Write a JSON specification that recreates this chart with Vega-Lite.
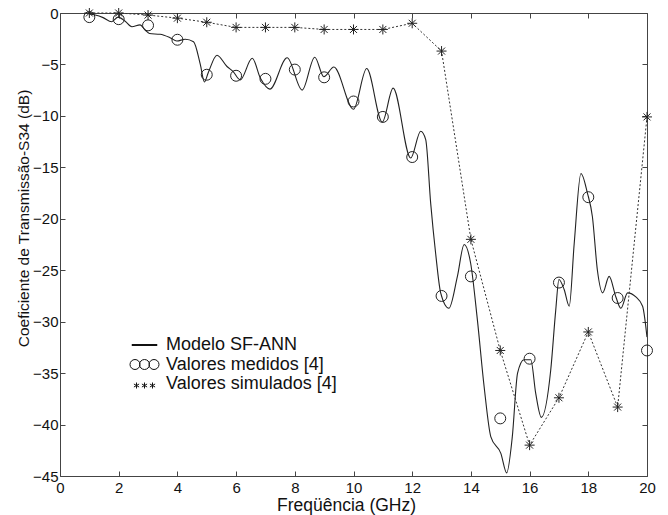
{
  "$schema": "https://vega.github.io/schema/vega-lite/v6.json",
  "width": 587,
  "height": 463,
  "autosize": {"type": "none"},
  "padding": {"left": 60, "top": 13, "right": 21, "bottom": 39},
  "background": "white",
  "config": {
    "view": {"stroke": null},
    "axis": {
      "grid": false,
      "labelFont": "Liberation Sans",
      "labelFontSize": 15,
      "labelColor": "#111",
      "titleFont": "Liberation Sans",
      "titleFontWeight": "normal",
      "titleColor": "#111",
      "domainColor": "#444",
      "domainWidth": 1,
      "tickColor": "#444",
      "tickSize": -5,
      "labelOverlap": false,
      "labelBound": false,
      "labelFlush": false
    }
  },
  "datasets": {
    "model": [
      {"f": 1.0, "v": -0.1}, {"f": 1.2, "v": -0.2}, {"f": 1.47, "v": -0.45}, {"f": 1.76, "v": -0.85},
      {"f": 1.98, "v": -0.4}, {"f": 2.22, "v": -0.8}, {"f": 2.45, "v": -1.33}, {"f": 2.73, "v": -1.15},
      {"f": 2.9, "v": -1.65}, {"f": 3.05, "v": -2.0}, {"f": 3.41, "v": -2.07}, {"f": 3.75, "v": -2.4},
      {"f": 3.98, "v": -2.72}, {"f": 4.27, "v": -2.55}, {"f": 4.55, "v": -2.8}, {"f": 4.78, "v": -5.0},
      {"f": 4.92, "v": -6.7}, {"f": 5.05, "v": -5.8}, {"f": 5.35, "v": -4.1}, {"f": 5.69, "v": -5.2},
      {"f": 5.9, "v": -5.7}, {"f": 6.14, "v": -6.5}, {"f": 6.55, "v": -4.4}, {"f": 6.83, "v": -6.35},
      {"f": 7.15, "v": -7.4}, {"f": 7.74, "v": -4.35}, {"f": 8.25, "v": -7.5}, {"f": 8.68, "v": -4.3},
      {"f": 8.99, "v": -6.2}, {"f": 9.33, "v": -5.25}, {"f": 10.0, "v": -9.35}, {"f": 10.45, "v": -5.4},
      {"f": 10.98, "v": -10.6}, {"f": 11.35, "v": -7.3}, {"f": 11.95, "v": -14.1}, {"f": 12.29, "v": -11.5},
      {"f": 12.46, "v": -12.3}, {"f": 12.63, "v": -18.5}, {"f": 12.8, "v": -23.4}, {"f": 12.97, "v": -27.2},
      {"f": 13.25, "v": -28.7}, {"f": 13.54, "v": -25.6}, {"f": 13.77, "v": -22.5}, {"f": 13.99, "v": -24.3},
      {"f": 14.22, "v": -29.8}, {"f": 14.45, "v": -36.3}, {"f": 14.68, "v": -41.2}, {"f": 15.02, "v": -42.8},
      {"f": 15.22, "v": -44.7}, {"f": 15.41, "v": -41.2}, {"f": 15.59, "v": -35.0}, {"f": 15.81, "v": -33.7},
      {"f": 16.04, "v": -33.7}, {"f": 16.21, "v": -37.0}, {"f": 16.4, "v": -39.3}, {"f": 16.72, "v": -34.7},
      {"f": 16.89, "v": -28.9}, {"f": 17.0, "v": -25.9}, {"f": 17.18, "v": -26.9}, {"f": 17.35, "v": -28.5},
      {"f": 17.52, "v": -22.4}, {"f": 17.75, "v": -15.6}, {"f": 17.97, "v": -17.5}, {"f": 18.14, "v": -19.8},
      {"f": 18.31, "v": -25.0}, {"f": 18.49, "v": -27.2}, {"f": 18.71, "v": -25.6}, {"f": 18.94, "v": -27.6},
      {"f": 19.11, "v": -28.7}, {"f": 19.34, "v": -27.2}, {"f": 19.62, "v": -27.6}, {"f": 19.85, "v": -28.5},
      {"f": 20.0, "v": -31.5}
    ],
    "measured": [
      {"f": 1, "v": -0.4}, {"f": 2, "v": -0.6}, {"f": 3, "v": -1.2}, {"f": 4, "v": -2.6},
      {"f": 5, "v": -6.0}, {"f": 6, "v": -6.1}, {"f": 7, "v": -6.4}, {"f": 8, "v": -5.5},
      {"f": 9, "v": -6.25}, {"f": 10, "v": -8.6}, {"f": 11, "v": -10.1}, {"f": 12, "v": -14.0},
      {"f": 13, "v": -27.5}, {"f": 14, "v": -25.6}, {"f": 15, "v": -39.4}, {"f": 16, "v": -33.6},
      {"f": 17, "v": -26.2}, {"f": 18, "v": -17.9}, {"f": 19, "v": -27.7}, {"f": 20, "v": -32.8}
    ],
    "simulated": [
      {"f": 1, "v": 0.0}, {"f": 2, "v": 0.0}, {"f": 3, "v": -0.2}, {"f": 4, "v": -0.5},
      {"f": 5, "v": -0.9}, {"f": 6, "v": -1.4}, {"f": 7, "v": -1.4}, {"f": 8, "v": -1.4},
      {"f": 9, "v": -1.6}, {"f": 10, "v": -1.6}, {"f": 11, "v": -1.6}, {"f": 12, "v": -1.0},
      {"f": 13, "v": -3.7}, {"f": 14, "v": -22.0}, {"f": 15, "v": -32.8}, {"f": 16, "v": -42.0},
      {"f": 17, "v": -37.4}, {"f": 18, "v": -31.0}, {"f": 19, "v": -38.3}, {"f": 20, "v": -10.1}
    ]
  },
  "layer": [
    {
      "data": {"name": "model"},
      "mark": {"type": "line", "color": "#222", "strokeWidth": 1.1, "interpolate": "monotone", "clip": true},
      "encoding": {
        "x": {"field": "f", "type": "quantitative", "scale": {"domain": [0, 20], "nice": false, "zero": false},
              "axis": {"orient": "bottom", "values": [0, 2, 4, 6, 8, 10, 12, 14, 16, 18, 20], "title": "Freqüência (GHz)", "labelPadding": 9,
                       "titleFontSize": 17.5, "titleX": 286, "titleY": 34, "titleBaseline": "alphabetic"}},
        "y": {"field": "v", "type": "quantitative", "scale": {"domain": [-45, 0], "nice": false, "zero": false},
              "axis": {"orient": "left", "values": [-45, -40, -35, -30, -25, -20, -15, -10, -5, 0], "title": "Coeficiente de Transmissão-S34 (dB)", "labelPadding": 7,
                       "titleFontSize": 15.5, "titleX": -37, "titleY": 205, "titleBaseline": "middle"}}
      }
    },
    {
      "data": {"name": "simulated"},
      "mark": {"type": "line", "color": "#333", "strokeWidth": 1, "strokeDash": [2, 2]},
      "encoding": {
        "x": {"field": "f", "type": "quantitative", "axis": {"orient": "top", "values": [0, 2, 4, 6, 8, 10, 12, 14, 16, 18, 20], "labels": false, "title": null}},
        "y": {"field": "v", "type": "quantitative", "axis": {"orient": "right", "values": [-45, -40, -35, -30, -25, -20, -15, -10, -5, 0], "labels": false, "title": null}}
      }
    },
    {
      "data": {"name": "simulated"},
      "mark": {"type": "point", "filled": false, "color": "#222", "strokeWidth": 1, "size": 100, "opacity": 1,
               "shape": "M-1,0H1M0,-1V1M-0.7,-0.7L0.7,0.7M-0.7,0.7L0.7,-0.7"},
      "encoding": {
        "x": {"field": "f", "type": "quantitative", "axis": null},
        "y": {"field": "v", "type": "quantitative", "axis": null}
      }
    },
    {
      "data": {"name": "measured"},
      "mark": {"type": "point", "filled": false, "color": "#222", "strokeWidth": 1, "size": 120, "opacity": 1, "shape": "circle"},
      "encoding": {
        "x": {"field": "f", "type": "quantitative", "axis": null},
        "y": {"field": "v", "type": "quantitative", "axis": null}
      }
    },
    {
      "data": {"name": "measured"},
      "transform": [{"filter": "false"}],
      "mark": {"type": "point", "filled": false, "color": "#111", "strokeWidth": 1, "opacity": 1},
      "encoding": {
        "shape": {
          "field": "series", "type": "nominal",
          "scale": {
            "domain": ["Modelo SF-ANN", "Valores medidos [4]", "Valores simulados [4]"],
            "range": [
              "M-2.5,-0.1H2.5V0.1H-2.5Z",
              "M-2.9,0A1,1,0,1,0,-0.9,0A1,1,0,1,0,-2.9,0M-1,0A1,1,0,1,0,1,0A1,1,0,1,0,-1,0M0.9,0A1,1,0,1,0,2.9,0A1,1,0,1,0,0.9,0",
              "M-1.6,-0.3V0.9M-2.12,0L-1.08,0.6M-2.12,0.6L-1.08,0M0,-0.3V0.9M-0.52,0L0.52,0.6M-0.52,0.6L0.52,0M1.6,-0.3V0.9M1.08,0L2.12,0.6M1.08,0.6L2.12,0"
            ]
          },
          "legend": {
            "orient": "none", "legendX": 75.5, "legendY": 323, "title": null, "padding": 0,
            "labelFont": "Liberation Sans", "labelFontSize": 18, "labelColor": "#111", "labelLimit": 400,
            "symbolSize": 100, "labelOffset": 12.5, "rowPadding": 1.5, "symbolStrokeWidth": 1,
            "symbolStrokeColor": "#111", "symbolFillColor": "transparent"
          }
        }
      }
    }
  ],
  "resolve": {"axis": {"x": "independent", "y": "independent"}}
}
